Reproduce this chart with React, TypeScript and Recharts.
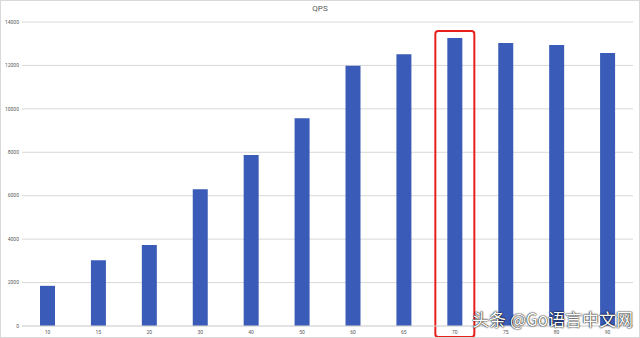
import React from "react";
import { BarChart, Bar, XAxis, YAxis, CartesianGrid, Rectangle } from "recharts";

const concurrency = ["10", "15", "20", "30", "40", "50", "60", "65", "70", "75", "80", "90"];
const qps = [1850, 3030, 3730, 6300, 7880, 9570, 11980, 12520, 13260, 13030, 12940, 12570];
const yTicks = [0, 2000, 4000, 6000, 8000, 10000, 12000, 14000];
const highlight = "70";

const data = concurrency.map((name, i) => ({ name, qps: qps[i] }));

const BarWithBox = (props: any) => {
  const { x, y, width, height, payload } = props;
  return (
    <g>
      <Rectangle x={x} y={y} width={width} height={height} fill="#3a5cb8" />
      {payload.name === highlight && (
        <rect
          x={x - 12}
          y={y - 7}
          width={width + 24}
          height={height + 18}
          rx={3}
          fill="none"
          stroke="#e8201c"
          strokeWidth={2}
        />
      )}
    </g>
  );
};

function App() {
  return (
    <div
      style={{
        position: "absolute",
        left: 0,
        top: 0,
        width: 640,
        height: 338,
        background: "#fff",
        boxSizing: "border-box",
        border: "1px solid #d9d9d9",
        fontFamily: "Roboto, sans-serif",
        overflow: "hidden",
      }}
    >
      <div
        style={{
          position: "absolute",
          top: 3,
          width: "100%",
          textAlign: "center",
          fontSize: 8,
          color: "#595959",
        }}
      >
        QPS
      </div>
      <BarChart
        width={638}
        height={336}
        data={data}
        margin={{ top: 21, right: 6, left: 0, bottom: 0 }}
        barSize={15}
      >
        <CartesianGrid vertical={false} stroke="#d9d9d9" />
        <XAxis
          dataKey="name"
          height={11}
          tickLine={false}
          tickSize={0}
          stroke="#d9d9d9"
          tick={{ fontSize: 5, fill: "#595959" }}
          tickMargin={4}
        />
        <YAxis
          width={21}
          ticks={yTicks}
          domain={[0, 14000]}
          axisLine={false}
          tickLine={false}
          tickSize={0}
          tick={{ fontSize: 5, fill: "#595959" }}
          tickMargin={3}
        />
        <Bar dataKey="qps" shape={BarWithBox} isAnimationActive={false} />
      </BarChart>
      <div
        style={{
          position: "absolute",
          right: 6,
          bottom: 6,
          fontSize: 17,
          color: "#fff",
          fontFamily: "'Noto Sans CJK SC', sans-serif",
          textShadow: "0 0 2px #000, 0 0 1px #000",
          whiteSpace: "nowrap",
        }}
      >
        头条 @Go语言中文网
      </div>
    </div>
  );
}

export default App;
